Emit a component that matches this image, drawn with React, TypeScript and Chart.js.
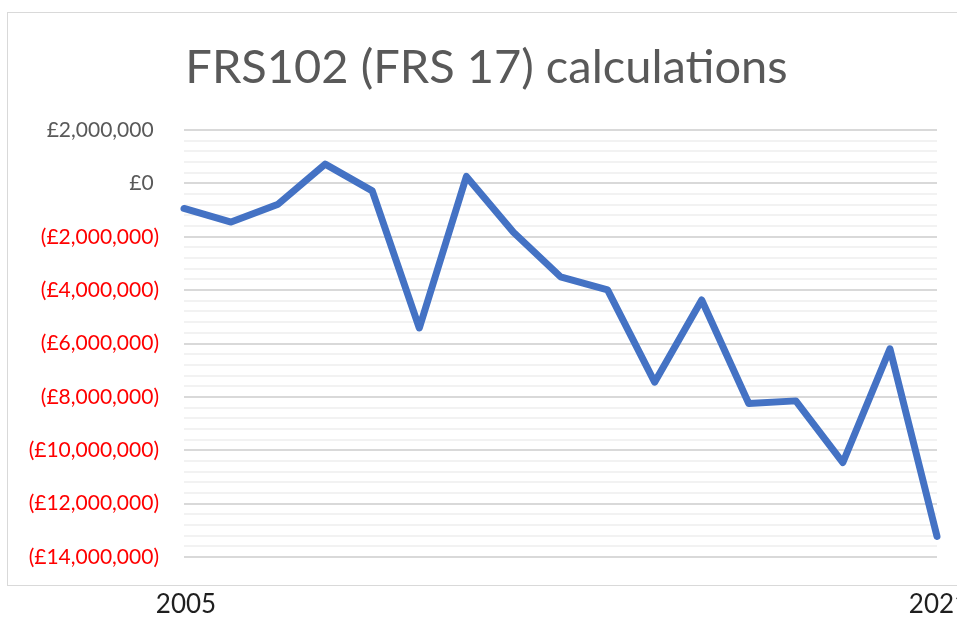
import React, { useEffect, useRef } from 'react';
import { Chart, registerables } from 'chart.js';

Chart.register(...registerables);

const titleText = 'FRS102 (FRS 17) calculations';
const years = [2005, 2006, 2007, 2008, 2009, 2010, 2011, 2012, 2013, 2014, 2015, 2016, 2017, 2018, 2019, 2020, 2021];
const values = [-940000, -1450000, -780000, 720000, -280000, -5420000, 260000, -1830000, -3500000, -3990000, -7450000, -4370000, -8250000, -8150000, -10460000, -6200000, -13230000];
const xTickYears = [2005, 2021];
const yMin = -14000000;
const yMax = 2000000;
const majorStep = 2000000;
const minorStep = 400000;

function formatMoney(v: number): string {
  const abs = Math.abs(Math.round(v));
  const s = abs.toString().replace(/\B(?=(\d{3})+(?!\d))/g, ',');
  return v < 0 ? `(£${s})` : `£${s} `;
}

const titlePlugin = {
  id: 'excelTitle',
  afterDraw(chart: any) {
    const ctx = chart.ctx;
    ctx.save();
    ctx.font = 'normal 47px Lato';
    ctx.fillStyle = '#595959';
    ctx.textAlign = 'center';
    ctx.textBaseline = 'alphabetic';
    ctx.fillText(titleText, 486.5, 83);
    ctx.restore();
  },
};

export default function App() {
  const ref = useRef<HTMLCanvasElement | null>(null);

  useEffect(() => {
    if (!ref.current) return;
    const chart = new Chart(ref.current, {
      type: 'line',
      data: {
        datasets: [
          {
            data: years.map((y, i) => ({ x: y, y: values[i] })),
            borderColor: '#4472C4',
            borderWidth: 7,
            pointRadius: 0,
            borderJoinStyle: 'round',
            borderCapStyle: 'round',
            tension: 0,
            clip: false as any,
          },
        ],
      },
      plugins: [titlePlugin],
      options: {
        animation: false,
        responsive: false,
        maintainAspectRatio: false,
        layout: { padding: { left: 0, right: 36, top: 130, bottom: 0 } },
        plugins: {
          legend: { display: false },
          tooltip: { enabled: false },
          title: { display: false },
        },
        scales: {
          x: {
            type: 'linear',
            min: years[0],
            max: years[years.length - 1],
            grid: { display: false },
            border: { display: false },
            afterBuildTicks: (axis: any) => {
              axis.ticks = xTickYears.map((v) => ({ value: v }));
            },
            afterFit: (scale: any) => {
              scale.height = 60;
              scale.paddingLeft = 0;
              scale.paddingRight = 0;
            },
            ticks: {
              color: '#1f1f1f',
              font: { family: 'Lato', size: 26 },
              padding: 24,
              labelOffset: 2,
              maxRotation: 0,
              autoSkip: false,
              callback: (v: any) => String(v),
            },
          },
          y: {
            min: yMin,
            max: yMax,
            border: { display: false },
            afterFit: (scale: any) => {
              scale.width = 184;
              scale.paddingTop = 0;
              scale.paddingBottom = 0;
            },
            grid: {
              drawTicks: false,
              color: (ctx: any) => (Math.round(ctx.tick.value) % majorStep === 0 ? '#d9d9d9' : '#f2f2f2'),
              lineWidth: 2,
            },
            ticks: {
              stepSize: minorStep,
              autoSkip: false,
              padding: 25,
              font: { family: 'Lato', size: 21 },
              color: (ctx: any) => (ctx.tick && ctx.tick.value < 0 ? '#FF0000' : '#595959'),
              callback: (v: any) => (Math.round(Number(v)) % majorStep === 0 ? formatMoney(Number(v)) : ''),
            },
          },
        },
      },
    });
    return () => chart.destroy();
  }, []);

  return (
    <div style={{ position: 'fixed', left: 0, top: 0, width: 957, height: 617, overflow: 'hidden', background: '#fff' }}>
      <div
        style={{
          position: 'absolute',
          left: 7,
          top: 12,
          width: 980,
          height: 574,
          border: '1px solid #d9d9d9',
          boxSizing: 'border-box',
        }}
      />
      <canvas ref={ref} width={973} height={617} style={{ position: 'absolute', left: 0, top: 0, width: 973, height: 617 }} />
    </div>
  );
}
